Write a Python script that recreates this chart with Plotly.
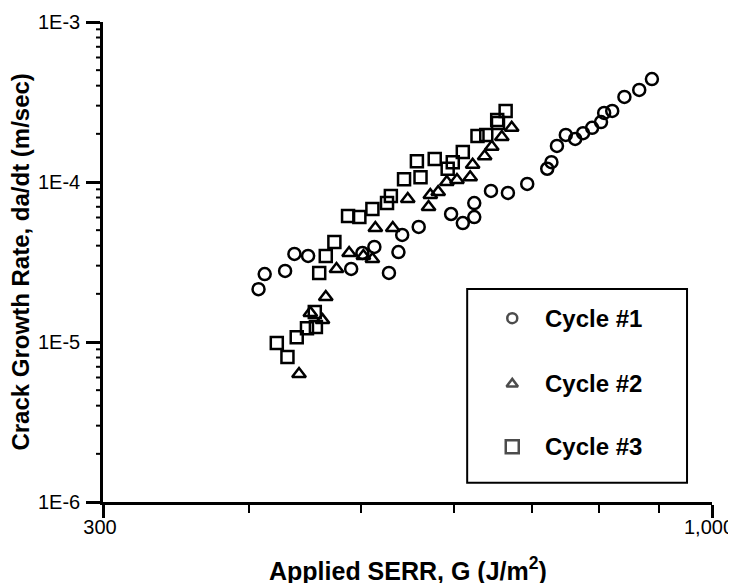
import numpy as np
import plotly.graph_objects as go

# ---- data ----
cycle1_G = [408, 413, 430, 438, 450, 490, 501, 513, 528, 538, 542, 560, 597, 611, 625, 625,
            646, 668, 694, 722, 728, 736, 749, 763, 775, 789, 803, 808, 821, 841, 866, 888]
cycle1_rate = [2.14e-5, 2.66e-5, 2.78e-5, 3.55e-5, 3.45e-5, 2.86e-5, 3.60e-5, 3.93e-5, 2.70e-5,
               3.65e-5, 4.67e-5, 5.24e-5, 6.31e-5, 5.54e-5, 6.04e-5, 7.39e-5, 8.79e-5, 8.54e-5,
               9.72e-5, 1.21e-4, 1.33e-4, 1.68e-4, 1.97e-4, 1.86e-4, 2.02e-4, 2.18e-4, 2.37e-4,
               2.70e-4, 2.78e-4, 3.40e-4, 3.76e-4, 4.40e-4]

cycle2_G = [442, 452, 463, 466, 476, 488, 502, 511, 514, 532, 548, 571, 573, 582, 592, 604,
            620, 623, 638, 647, 660, 673]
cycle2_rate = [6.31e-6, 1.52e-5, 1.37e-5, 1.91e-5, 2.86e-5, 3.60e-5, 3.45e-5, 3.30e-5, 5.16e-5,
               5.16e-5, 7.83e-5, 6.98e-5, 8.29e-5, 8.66e-5, 1.00e-4, 1.03e-4, 1.07e-4, 1.28e-4,
               1.45e-4, 1.66e-4, 1.91e-4, 2.18e-4]

cycle3_G = [423, 432, 440, 449, 457, 456, 460, 466, 474, 487, 498, 511, 526, 530, 544, 558,
            562, 578, 593, 599, 611, 629, 640, 654, 655, 665]
cycle3_rate = [9.86e-6, 8.06e-6, 1.07e-5, 1.22e-5, 1.24e-5, 1.54e-5, 2.70e-5, 3.45e-5, 4.22e-5,
               6.13e-5, 6.04e-5, 6.78e-5, 7.39e-5, 8.18e-5, 1.04e-4, 1.35e-4, 1.07e-4, 1.39e-4,
               1.21e-4, 1.33e-4, 1.54e-4, 1.94e-4, 1.97e-4, 2.44e-4, 2.34e-4, 2.78e-4]

series_names = ["Cycle #1", "Cycle #2", "Cycle #3"]
series_symbols = ["circle-open", "triangle-up-open", "square-open"]

x_tickvals = [300, 1000]
x_ticktext = ["300", "1,000"]
x_minor = [400, 500, 600, 700, 800, 900]
y_major = [1e-6, 1e-5, 1e-4, 1e-3]
y_major_text = ["1E-6", "1E-5", "1E-4", "1E-3"]
y_minor = [m * 10.0 ** e for e in (-6, -5, -4) for m in range(2, 10)]

FONT = "Liberation Sans, Arial, Helvetica, sans-serif"
PLOT_W = 609      # plot-area width in px
Y_LOG_RANGE = [-6, -3]

fig = go.Figure()
data_sets = [(cycle1_G, cycle1_rate), (cycle2_G, cycle2_rate), (cycle3_G, cycle3_rate)]
for (gx, ry), name, sym in zip(data_sets, series_names, series_symbols):
    fig.add_trace(go.Scatter(
        x=gx, y=ry, mode="markers", name=name, showlegend=False,
        marker=dict(symbol=sym, size=12, color="black", line=dict(width=2.5, color="black")),
    ))

# minor y ticks (outside, short), positioned along the log axis in paper units
for v in y_minor:
    frac = (np.log10(v) - Y_LOG_RANGE[0]) / (Y_LOG_RANGE[1] - Y_LOG_RANGE[0])
    fig.add_shape(type="line", xref="paper", yref="paper", x0=-7.0 / PLOT_W, x1=0,
                  y0=frac, y1=frac, line=dict(color="black", width=2), layer="above")

# ---- legend (drawn manually to match the boxed key) ----
leg_x0, leg_x1, leg_y0, leg_y1 = 0.598, 0.959, 0.040, 0.444
leg_item_y = [0.383, 0.246, 0.115]
leg_marker_x = 0.672
leg_text_x = 0.722
legend_sizes = [10, 10, 13]
fig.add_trace(go.Scatter(
    x=[leg_marker_x] * 3, y=leg_item_y, mode="markers", showlegend=False, hoverinfo="skip",
    xaxis="x2", yaxis="y2",
    marker=dict(symbol=series_symbols, size=legend_sizes, color="black",
                line=dict(width=2.5, color="black")),
))
fig.add_shape(type="rect", xref="paper", yref="paper", x0=leg_x0, x1=leg_x1, y0=leg_y0, y1=leg_y1,
              line=dict(color="black", width=2), fillcolor="rgba(0,0,0,0)")
for name, yy in zip(series_names, leg_item_y):
    fig.add_annotation(x=leg_text_x, y=yy, xref="paper", yref="paper", text="<b>%s</b>" % name,
                       showarrow=False, xanchor="left", yanchor="middle",
                       font=dict(family=FONT, size=24, color="black"))

# ---- axis titles ----
fig.add_annotation(x=0.5, y=-0.14, xref="paper", yref="paper",
                   text="<b>Applied SERR, G (J/m<sup>2</sup>)</b>", showarrow=False,
                   xanchor="center", yanchor="middle", font=dict(family=FONT, size=25, color="black"))
fig.add_annotation(x=-0.137, y=0.5, xref="paper", yref="paper",
                   text="<b>Crack Growth Rate, da/dt (m/sec)</b>", showarrow=False, textangle=-90,
                   xanchor="center", yanchor="middle", font=dict(family=FONT, size=24, color="black"))

fig.update_layout(
    template="none",
    width=736, height=575,
    margin=dict(l=95, r=32, t=14, b=81),
    paper_bgcolor="white", plot_bgcolor="rgba(0,0,0,0)",
    font=dict(family=FONT, size=20, color="black"),
    showlegend=False,
    xaxis=dict(
        type="log", range=[np.log10(300), np.log10(1000)], showgrid=False, zeroline=False,
        automargin=False, showline=True, linecolor="black", linewidth=2.5,
        tickmode="array", tickvals=x_tickvals, ticktext=x_ticktext,
        ticks="outside", ticklen=13, tickwidth=2.5, tickcolor="black",
        ticklabelstandoff=-8, ticklabelshift=-3, ticklabeloverflow="allow",
        minor=dict(tickmode="array", tickvals=x_minor, ticks="outside", ticklen=8,
                   tickwidth=2, tickcolor="black", showgrid=False),
        tickfont=dict(family=FONT, size=20, color="black"),
    ),
    yaxis=dict(
        type="log", range=Y_LOG_RANGE, showgrid=False, zeroline=False, automargin=False,
        showline=True, linecolor="black", linewidth=2.5,
        tickmode="array", tickvals=y_major, ticktext=y_major_text,
        ticks="outside", ticklen=14, tickwidth=2.5, tickcolor="black",
        ticklabelstandoff=2,
        tickfont=dict(family=FONT, size=20, color="black"),
    ),
    xaxis2=dict(domain=[0, 1], range=[0, 1], visible=False, anchor="y2", fixedrange=True),
    yaxis2=dict(domain=[0, 1], range=[0, 1], visible=False, anchor="x2", fixedrange=True),
)

fig.write_html("out.html")
